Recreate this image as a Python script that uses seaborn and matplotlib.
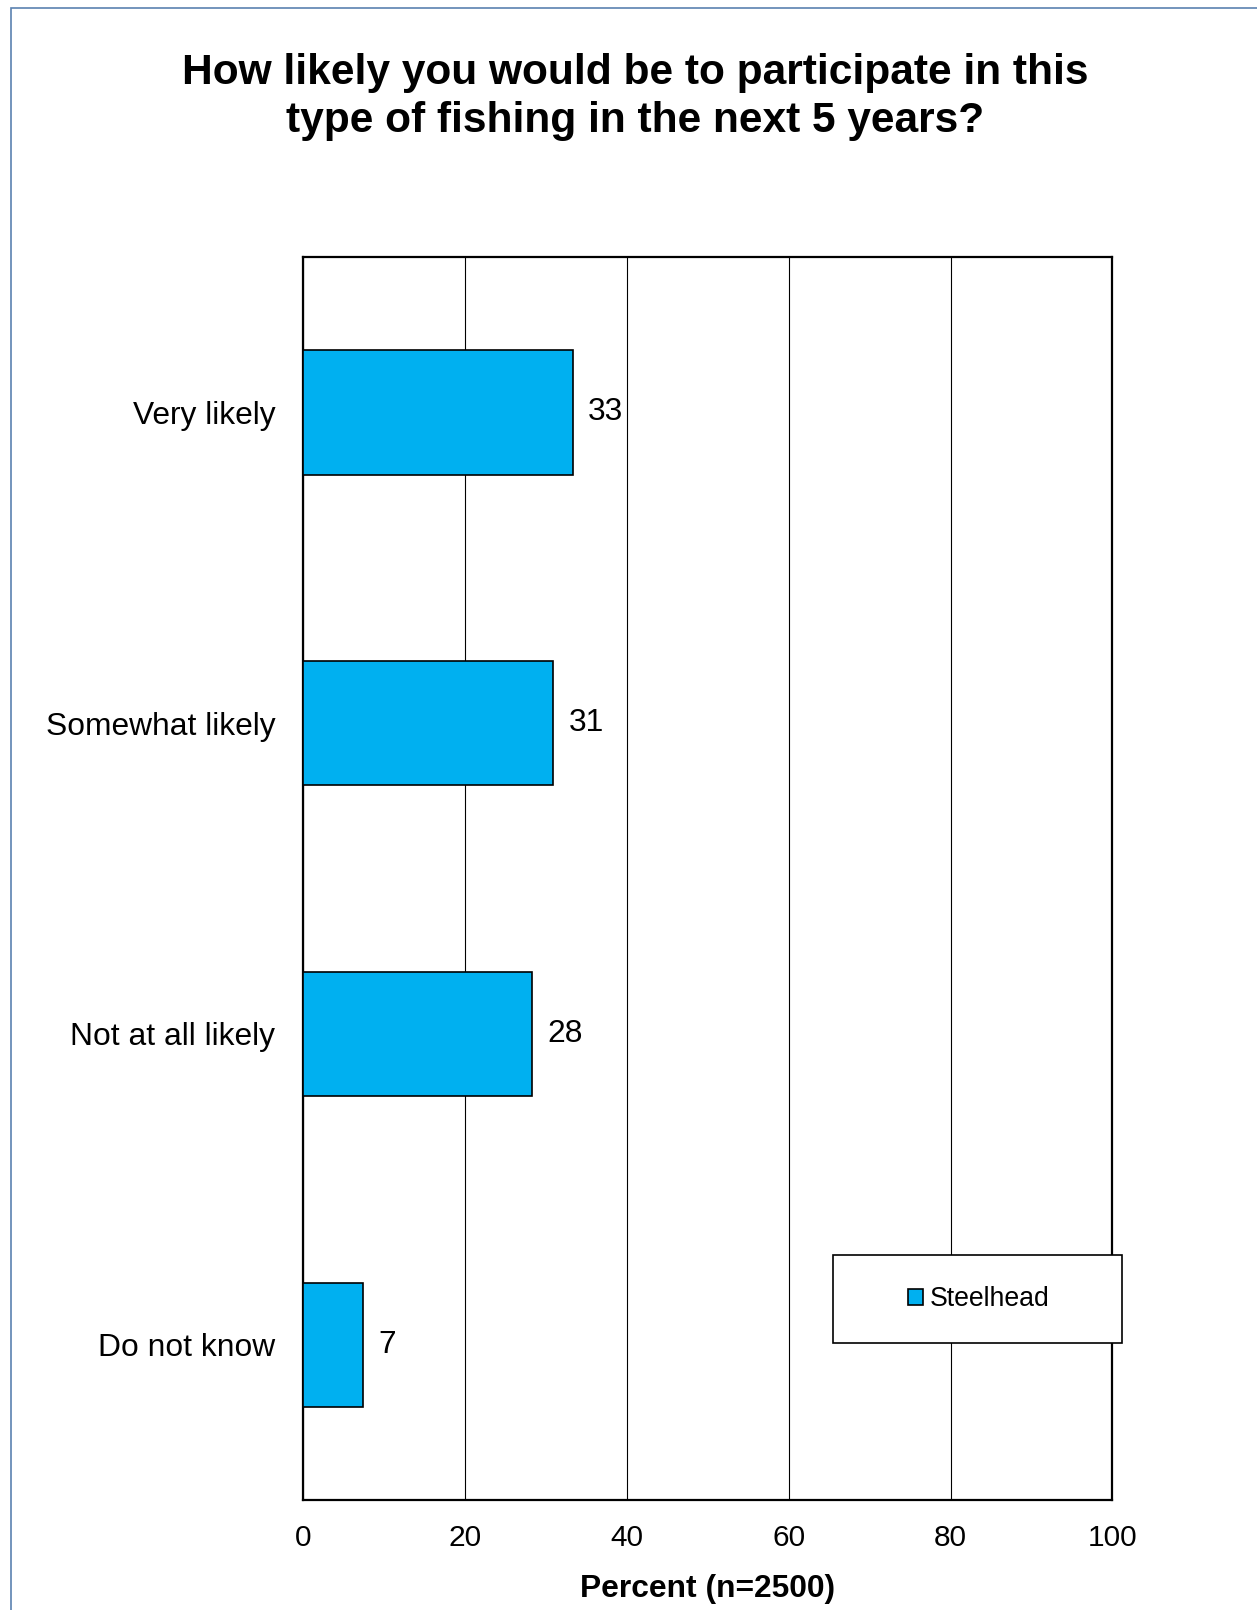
import pandas as pd
import numpy as np
import matplotlib
matplotlib.use("Agg")
import matplotlib.pyplot as plt
import seaborn as sns
from matplotlib.patches import Rectangle

# Data
categories = ["Very likely", "Somewhat likely", "Not at all likely", "Do not know"]
percent = [33.3, 30.9, 28.3, 7.4]
series = "Steelhead"
x_ticks = [0, 20, 40, 60, 80, 100]

df = pd.DataFrame({"Category": categories, "Percent": percent, "Series": series})

sns.set_style("white")
plt.rcParams["font.family"] = ["Liberation Sans", "DejaVu Sans"]
plt.rcParams["text.color"] = "black"
plt.rcParams["xtick.color"] = "black"
plt.rcParams["ytick.color"] = "black"
plt.rcParams["axes.labelcolor"] = "black"

fig = plt.figure(figsize=(12.57, 16.10), dpi=100)
ax = fig.add_axes([0.241, 0.0683, 0.644, 0.772])

sns.barplot(data=df, x="Percent", y="Category", hue="Series", palette=["#00B0F0"],
            saturation=1, width=0.4, dodge=False, edgecolor="black", linewidth=1.2,
            ax=ax, legend=True, zorder=3)

ax.set_xlim(0, 100)
ax.set_ylim(3.5, -0.5)
ax.set_xticks(x_ticks)
ax.set_xticklabels([str(t) for t in x_ticks], fontsize=21.5)
ax.tick_params(axis="x", direction="out", length=5, width=1, pad=12, color="black")

# y: labels at category centres, tick marks at the boundaries
ax.set_yticks(range(len(categories)))
ax.set_yticklabels(categories, fontsize=22.9)
ax.tick_params(axis="y", which="major", length=0, pad=20)
ax.set_yticks(np.arange(-0.5, len(categories), 1.0), minor=True)
ax.tick_params(axis="y", which="minor", direction="out", length=5, width=1, color="black")

ax.grid(axis="x", color="black", linewidth=0.8, zorder=0)
ax.set_axisbelow(True)
for s in ax.spines.values():
    s.set_visible(True)
    s.set_color("black")
    s.set_linewidth(1.6)

ax.set_xlabel("Percent (n=2500)", fontsize=22.9, fontweight="bold", labelpad=16)
ax.set_ylabel("")

for c in ax.containers:
    ax.bar_label(c, labels=[f"{v:.0f}" for v in c.datavalues], padding=11, fontsize=22.9)

# legend: framed box drawn separately
handles, labels = ax.get_legend_handles_labels()
ax.get_legend().remove()
fig.legend(handles, labels, loc="center", bbox_to_anchor=(979 / 1257, 1 - 1299 / 1610),
           frameon=False, fontsize=19.2, handlelength=0.55, handleheight=0.55,
           handletextpad=0.25)
fig.add_artist(Rectangle((833 / 1257, 1 - 1343 / 1610), 289 / 1257, 88 / 1610,
                         transform=fig.transFigure, facecolor="white", edgecolor="black",
                         linewidth=1.2, zorder=1))

fig.suptitle("How likely you would be to participate in this\ntype of fishing in the next 5 years?",
             x=0.505, y=0.967, fontsize=30.6, fontweight="bold", linespacing=1.25)

# outer chart border
fig.add_artist(Rectangle((11 / 1257, -0.1), 2, 1.1 - 8 / 1610, transform=fig.transFigure,
                         fill=False, edgecolor="#5B82B0", linewidth=1.2))

fig.savefig("out.png", dpi=100)
